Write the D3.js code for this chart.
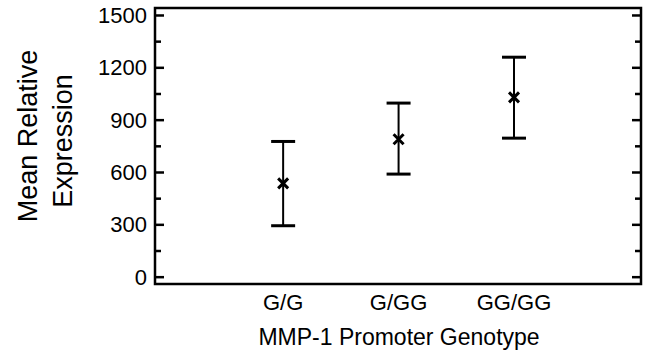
<!DOCTYPE html>
<html>
<head>
<meta charset="utf-8">
<script src="https://cdn.jsdelivr.net/npm/d3@7"></script>
<style>
  body { margin: 0; background: #fff; }
  svg text { font-family: "Liberation Sans", Arial, sans-serif; fill: #000; }
</style>
</head>
<body>
<div id="chart"></div>
<script>
// data
const genotypes = ["G/G", "G/GG", "GG/GG"];
const means = [535, 788, 1028];
const lows = [292, 588, 794];
const highs = [775, 995, 1258];
const yTicks = [0, 300, 600, 900, 1200, 1500];
const yMinorTicks = [150, 450, 750, 1050, 1350];

const W = 652, H = 356;
const frame = { left: 155, right: 641, top: 8, bottom: 284 };

const svg = d3.select("#chart").append("svg")
    .attr("width", W)
    .attr("height", H);

const y = d3.scaleLinear()
    .domain([-42, 1540])
    .range([frame.bottom, frame.top]);

// categories sit on an index axis, a bit more room on the right
const x = d3.scaleLinear()
    .domain([-1.11, 3.1])
    .range([frame.left, frame.right]);

// inward ticks on both vertical sides
function ticks(xPos, axisFn, values, size) {
    svg.append("g")
        .attr("transform", `translate(${xPos},0)`)
        .call(axisFn(y).tickValues(values).tickSize(size).tickFormat(""))
        .call(g => g.select(".domain").remove())
        .selectAll("line").attr("stroke", "#000").attr("stroke-width", 2.5);
}
ticks(frame.left, d3.axisRight, yTicks, 9);
ticks(frame.left, d3.axisRight, yMinorTicks, 6);
ticks(frame.right, d3.axisLeft, yTicks, 9);
ticks(frame.right, d3.axisLeft, yMinorTicks, 6);

// y tick labels
svg.append("g").selectAll("text")
    .data(yTicks)
    .join("text")
    .attr("x", frame.left - 8)
    .attr("y", d => y(d))
    .attr("dy", "0.36em")
    .attr("text-anchor", "end")
    .attr("font-size", 22)
    .text(d => d);

// frame
svg.append("rect")
    .attr("x", frame.left)
    .attr("y", frame.top)
    .attr("width", frame.right - frame.left)
    .attr("height", frame.bottom - frame.top)
    .attr("fill", "none")
    .attr("stroke", "#000")
    .attr("stroke-width", 2.5);

// x category labels
svg.append("g").selectAll("text")
    .data(genotypes)
    .join("text")
    .attr("x", (d, i) => x(i))
    .attr("y", 310)
    .attr("text-anchor", "middle")
    .attr("font-size", 22)
    .text(d => d);

// error bars
const bars = svg.append("g").selectAll("g")
    .data(genotypes.map((g, i) => ({ g, i, m: means[i], lo: lows[i], hi: highs[i] })))
    .join("g");

bars.append("line")
    .attr("x1", d => x(d.i)).attr("x2", d => x(d.i))
    .attr("y1", d => y(d.lo)).attr("y2", d => y(d.hi))
    .attr("stroke", "#000").attr("stroke-width", 2);

const capHalf = 12;
bars.selectAll(".cap")
    .data(d => [[d.i, d.lo], [d.i, d.hi]])
    .join("line")
    .attr("class", "cap")
    .attr("x1", d => x(d[0]) - capHalf).attr("x2", d => x(d[0]) + capHalf)
    .attr("y1", d => y(d[1])).attr("y2", d => y(d[1]))
    .attr("stroke", "#000").attr("stroke-width", 3);

const mk = 5;
bars.append("path")
    .attr("d", d => {
        const cx = x(d.i), cy = y(d.m);
        return `M${cx - mk},${cy - mk}L${cx + mk},${cy + mk}M${cx - mk},${cy + mk}L${cx + mk},${cy - mk}`;
    })
    .attr("stroke", "#000").attr("stroke-width", 3).attr("fill", "none");

// axis titles
svg.append("text")
    .attr("x", 399)
    .attr("y", 345)
    .attr("text-anchor", "middle")
    .attr("font-size", 23)
    .text("MMP-1 Promoter Genotype");

svg.append("text")
    .attr("transform", "translate(37,136) rotate(-90)")
    .attr("text-anchor", "middle")
    .attr("font-size", 27)
    .text("Mean Relative");
svg.append("text")
    .attr("transform", "translate(72,141) rotate(-90)")
    .attr("text-anchor", "middle")
    .attr("font-size", 27)
    .text("Expression");
</script>
</body>
</html>
